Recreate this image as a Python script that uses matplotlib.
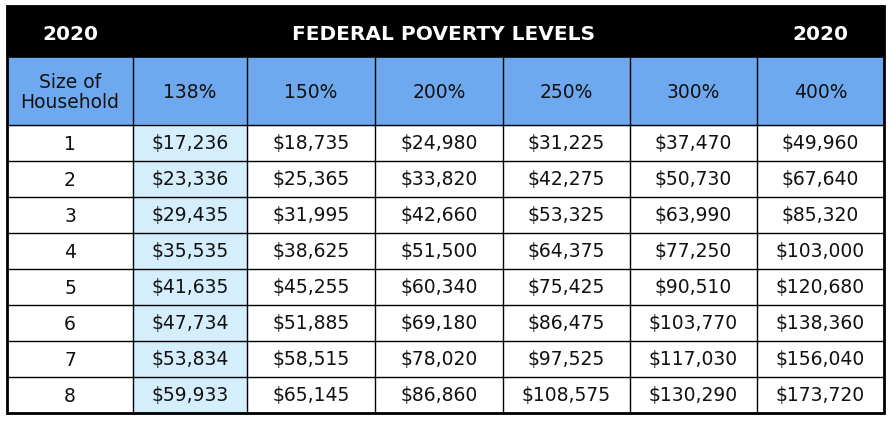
import matplotlib.pyplot as plt
from matplotlib.patches import Rectangle

year = "2020"
title = "FEDERAL POVERTY LEVELS"
col_labels = ["Size of\nHousehold", "138%", "150%", "200%", "250%", "300%", "400%"]
sizes = ["1", "2", "3", "4", "5", "6", "7", "8"]
fpl_138 = ["$17,236", "$23,336", "$29,435", "$35,535", "$41,635", "$47,734", "$53,834", "$59,933"]
fpl_150 = ["$18,735", "$25,365", "$31,995", "$38,625", "$45,255", "$51,885", "$58,515", "$65,145"]
fpl_200 = ["$24,980", "$33,820", "$42,660", "$51,500", "$60,340", "$69,180", "$78,020", "$86,860"]
fpl_250 = ["$31,225", "$42,275", "$53,325", "$64,375", "$75,425", "$86,475", "$97,525", "$108,575"]
fpl_300 = ["$37,470", "$50,730", "$63,990", "$77,250", "$90,510", "$103,770", "$117,030", "$130,290"]
fpl_400 = ["$49,960", "$67,640", "$85,320", "$103,000", "$120,680", "$138,360", "$156,040", "$173,720"]

W, H = 891, 421
fig = plt.figure(figsize=(W / 100, H / 100), dpi=100)
ax = fig.add_axes([0, 0, 1, 1])
ax.set_xlim(0, W)
ax.set_ylim(H, 0)
ax.axis("off")

xs = [7, 133, 247, 375, 503, 630, 757, 884]
top, black_bot, head_bot, bottom = 6, 58, 125, 413
row_h = (bottom - head_bot) / len(sizes)
font = "DejaVu Sans"

# black title bar
ax.add_patch(Rectangle((xs[0], top), xs[-1] - xs[0], black_bot - top, color="black"))
tkw = dict(color="white", fontsize=14.5, fontweight="bold", ha="center", va="center", family=font)
ax.text((xs[0] + xs[1]) / 2, (top + black_bot) / 2 + 2, year, **tkw)
ax.text((xs[2] + xs[5]) / 2 + 5, (top + black_bot) / 2 + 2, title, **tkw)
ax.text((xs[6] + xs[7]) / 2, (top + black_bot) / 2 + 2, year, **tkw)

# blue header row
ax.add_patch(Rectangle((xs[0], black_bot), xs[-1] - xs[0], head_bot - black_bot, color="#6ea9f0"))
for i, lab in enumerate(col_labels):
    ax.text((xs[i] + xs[i + 1]) / 2, (black_bot + head_bot) / 2 + 1, lab, fontsize=13.5,
            ha="center", va="center", family=font, color="#111111", linespacing=1.0)

# light blue 138% column
ax.add_patch(Rectangle((xs[1], head_bot), xs[2] - xs[1], bottom - head_bot, color="#d5eefc"))

columns = [sizes, fpl_138, fpl_150, fpl_200, fpl_250, fpl_300, fpl_400]
for c, vals in enumerate(columns):
    for r, v in enumerate(vals):
        y = head_bot + (r + 0.5) * row_h
        ax.text((xs[c] + xs[c + 1]) / 2, y + 1, v, fontsize=13.5, ha="center", va="center",
                family=font, color="#111111")

# grid lines
for x in xs[1:-1]:
    ax.plot([x, x], [black_bot, bottom], color="black", lw=1)
for r in range(len(sizes) + 1):
    y = head_bot + r * row_h
    ax.plot([xs[0], xs[-1]], [y, y], color="black", lw=1)
ax.add_patch(Rectangle((xs[0], top), xs[-1] - xs[0], bottom - top, fill=False, ec="black", lw=2))

fig.savefig("out.png", dpi=100)
